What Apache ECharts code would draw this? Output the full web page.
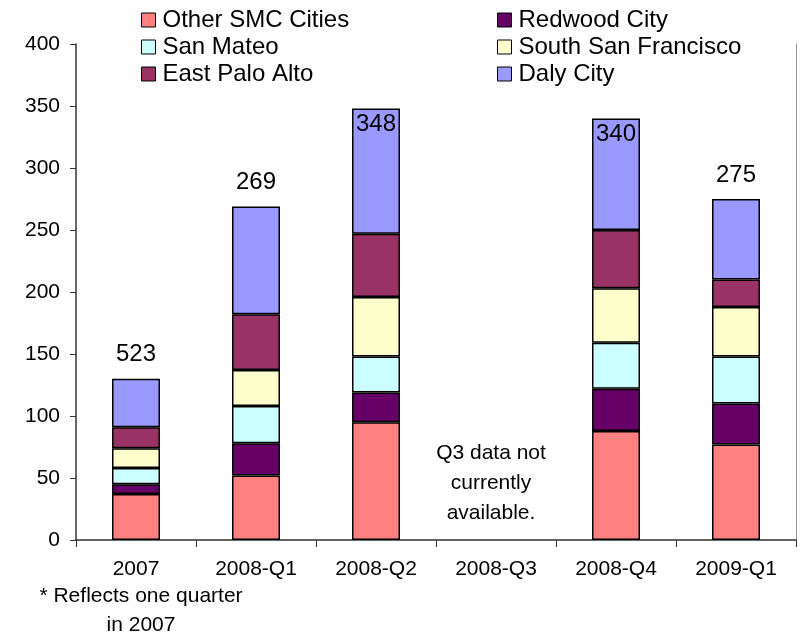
<!DOCTYPE html>
<html>
<head>
<meta charset="utf-8">
<script src="https://cdn.jsdelivr.net/npm/echarts@6/dist/echarts.min.js"></script>
<style>
  html, body { margin: 0; padding: 0; background: #fff; }
  #chart { width: 806px; height: 640px; }
</style>
</head>
<body>
<div id="chart"></div>
<script>
const categories = ['2007', '2008-Q1', '2008-Q2', '2008-Q3', '2008-Q4', '2009-Q1']
const otherSmc = [37, 52, 95, null, 88, 77]
const redwoodCity = [8, 26, 24, null, 34, 33]
const sanMateo = [13, 30, 29, null, 37, 38]
const southSanFrancisco = [16, 29, 48, null, 44, 40]
const eastPaloAlto = [17, 45, 51, null, 47, 22]
const dalyCity = [39, 87, 101, null, 90, 65]
const totalLabels = ['523', '269', '348', '', '340', '275']

const font = "'Liberation Sans', Arial, sans-serif"
const stacks = [
  { name: 'Other SMC Cities', data: otherSmc, color: '#FF8080' },
  { name: 'Redwood City', data: redwoodCity, color: '#660066' },
  { name: 'San Mateo', data: sanMateo, color: '#CCFFFF' },
  { name: 'South San Francisco', data: southSanFrancisco, color: '#FFFFCC' },
  { name: 'East Palo Alto', data: eastPaloAlto, color: '#993366' },
  { name: 'Daly City', data: dalyCity, color: '#9999FF' },
]

function totalAt(i) {
  return stacks.reduce((s, st) => s + (st.data[i] || 0), 0)
}

const series = stacks.map((st, idx) => {
  const isTop = idx === stacks.length - 1
  return {
    name: st.name,
    type: 'bar',
    stack: 'all',
    barWidth: 48,
    itemStyle: { color: st.color, borderColor: '#000', borderWidth: 1.5 },
    emphasis: { disabled: true },
    data: st.data.map((v, i) => {
      if (v == null) return '-'
      if (!isTop) return v
      // tall bars carry their label just inside the top edge
      const inside = totalAt(i) > 300
      return {
        value: v,
        label: {
          show: true,
          position: inside ? 'insideTop' : 'top',
          distance: inside ? 4 : 12,
          formatter: () => totalLabels[i],
          fontFamily: font,
          fontSize: 24,
          color: '#000',
        },
      }
    }),
  }
})

const legendBase = {
  orient: 'vertical',
  top: 8,
  padding: 0,
  itemWidth: 14,
  itemHeight: 14,
  itemGap: 3,
  icon: 'rect',
  itemStyle: { borderColor: '#000', borderWidth: 1 },
  textStyle: { fontFamily: font, fontSize: 24, color: '#000', lineHeight: 23.5, padding: [0, 0, 0, 2] },
}

const chart = echarts.init(document.getElementById('chart'))
chart.setOption({
  animation: false,
  grid: { left: 76, right: 10, top: 44, bottom: 100, outerBoundsMode: 'none' },
  legend: [
    Object.assign({}, legendBase, { left: 141, data: ['Other SMC Cities', 'San Mateo', 'East Palo Alto'] }),
    Object.assign({}, legendBase, { left: 497, data: ['Redwood City', 'South San Francisco', 'Daly City'] }),
  ],
  xAxis: {
    type: 'category',
    data: categories,
    axisLine: { lineStyle: { color: '#333', width: 1.5 } },
    axisTick: { show: true, length: 7, lineStyle: { color: '#333' } },
    axisLabel: { fontFamily: font, fontSize: 21, color: '#000', margin: 19 },
  },
  yAxis: [
    {
      type: 'value',
      min: 0,
      max: 400,
      interval: 50,
      splitLine: { show: false },
      axisLine: { show: true, lineStyle: { color: '#333', width: 1.5 } },
      axisTick: { show: true, length: 6, lineStyle: { color: '#333' } },
      axisLabel: { fontFamily: font, fontSize: 21, color: '#000', margin: 16 },
    },
    {
      type: 'value',
      position: 'right',
      min: 0,
      max: 400,
      splitLine: { show: false },
      axisLine: { show: true, lineStyle: { color: '#999', width: 1 } },
      axisTick: { show: false },
      axisLabel: { show: false },
    },
  ],
  series: series,
  graphic: [
    {
      type: 'text',
      x: 491,
      y: 483,
      style: {
        text: 'Q3 data not\ncurrently\navailable.',
        fontFamily: font,
        fontSize: 21,
        lineHeight: 30,
        fill: '#000',
        align: 'center',
        verticalAlign: 'middle',
      },
    },
    {
      type: 'text',
      x: 141,
      y: 611,
      style: {
        text: '* Reflects one quarter\nin 2007',
        fontFamily: font,
        fontSize: 21,
        lineHeight: 29,
        fill: '#000',
        align: 'center',
        verticalAlign: 'middle',
      },
    },
  ],
})
</script>
</body>
</html>
